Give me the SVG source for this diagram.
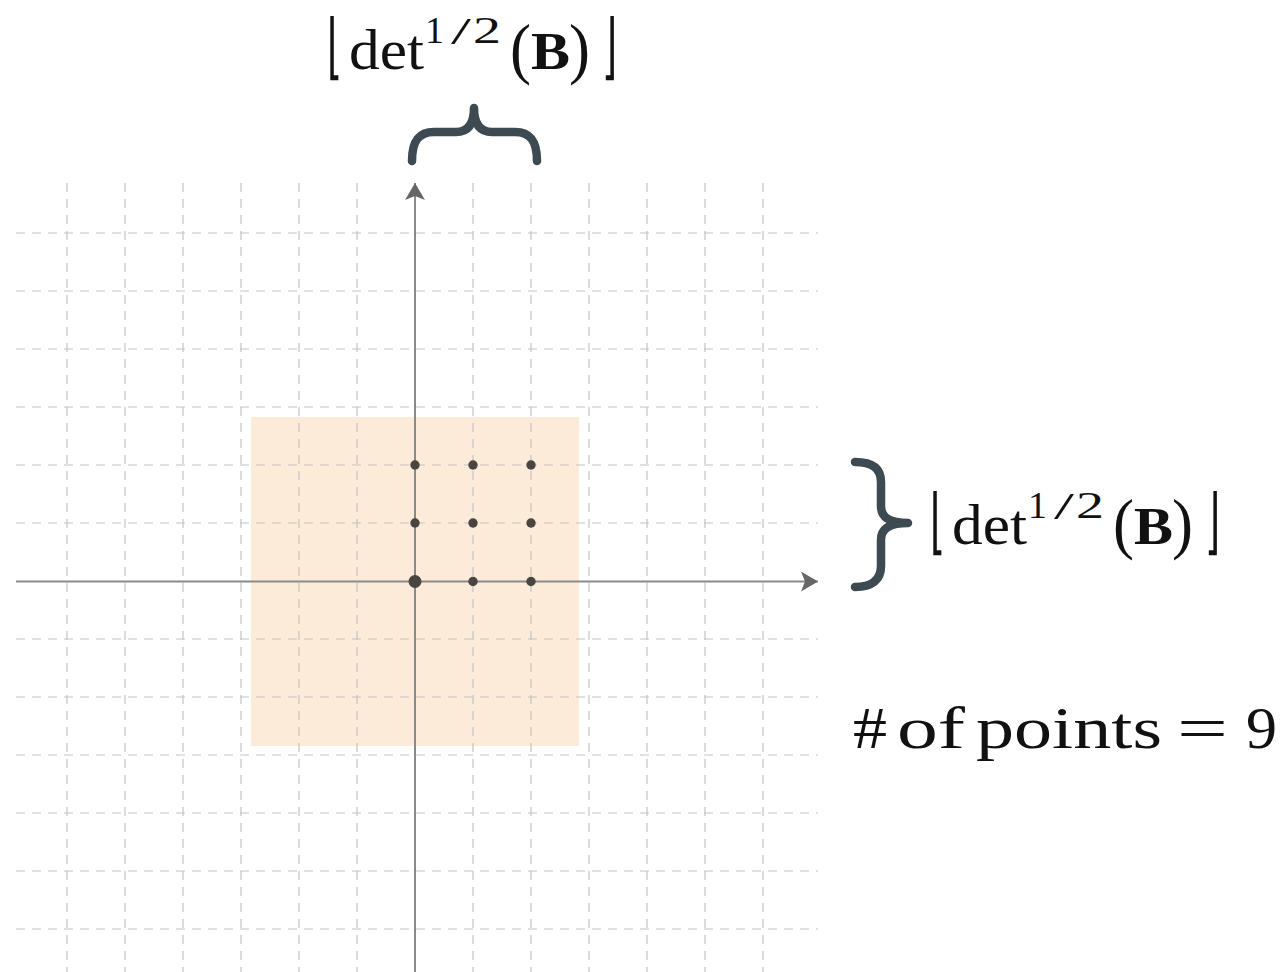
<svg xmlns="http://www.w3.org/2000/svg" width="1286" height="972" viewBox="0 0 1286 972">
<style>
.grid line{stroke:#c4c4c4;stroke-width:1.2;stroke-dasharray:9 7}
.axis{stroke:#8a8a8a;stroke-width:2;fill:none}
.dot{fill:#4a4541}
.brace{fill:none;stroke:#3e4a52;stroke-width:8.5;stroke-linecap:round;stroke-linejoin:round}
.m{font-family:"Liberation Serif","DejaVu Serif",serif;fill:#111}
.b{font-weight:bold}
.fl{font-family:"DejaVu Sans","DejaVu Serif",sans-serif;fill:#111}
</style>
<defs>
<marker id="arr" viewBox="0 0 20 20" refX="17" refY="10" markerWidth="20" markerHeight="20" markerUnits="userSpaceOnUse" orient="auto">
<path d="M0,0 L17,10 L0,20 L4,10 Z" fill="#666"/>
</marker>
</defs>
<rect id="region" x="251" y="417" width="328" height="329" fill="#fcebd9"/>
<g id="grid" class="grid">
<line x1="67" y1="183" x2="67" y2="972"/>
<line x1="125" y1="183" x2="125" y2="972"/>
<line x1="183" y1="183" x2="183" y2="972"/>
<line x1="241" y1="183" x2="241" y2="972"/>
<line x1="299" y1="183" x2="299" y2="972"/>
<line x1="357" y1="183" x2="357" y2="972"/>
<line x1="473" y1="183" x2="473" y2="972"/>
<line x1="531" y1="183" x2="531" y2="972"/>
<line x1="589" y1="183" x2="589" y2="972"/>
<line x1="647" y1="183" x2="647" y2="972"/>
<line x1="705" y1="183" x2="705" y2="972"/>
<line x1="763" y1="183" x2="763" y2="972"/>
<line x1="16" y1="233" x2="818" y2="233"/>
<line x1="16" y1="291" x2="818" y2="291"/>
<line x1="16" y1="349" x2="818" y2="349"/>
<line x1="16" y1="407" x2="818" y2="407"/>
<line x1="16" y1="465" x2="818" y2="465"/>
<line x1="16" y1="523" x2="818" y2="523"/>
<line x1="16" y1="639" x2="818" y2="639"/>
<line x1="16" y1="697" x2="818" y2="697"/>
<line x1="16" y1="755" x2="818" y2="755"/>
<line x1="16" y1="813" x2="818" y2="813"/>
<line x1="16" y1="871" x2="818" y2="871"/>
<line x1="16" y1="929" x2="818" y2="929"/>
</g>
<g id="connectors">
<line class="axis" x1="16" y1="581.5" x2="818" y2="581.5" marker-end="url(#arr)"/>
<line class="axis" x1="415" y1="972" x2="415" y2="183" marker-end="url(#arr)"/>
</g>
<g id="points">
<circle class="dot" cx="415" cy="581.5" r="6.5"/>
<circle class="dot" cx="473" cy="581.5" r="4.7"/>
<circle class="dot" cx="531" cy="581.5" r="4.7"/>
<circle class="dot" cx="415" cy="523" r="4.7"/>
<circle class="dot" cx="473" cy="523" r="4.7"/>
<circle class="dot" cx="531" cy="523" r="4.7"/>
<circle class="dot" cx="415" cy="465" r="4.7"/>
<circle class="dot" cx="473" cy="465" r="4.7"/>
<circle class="dot" cx="531" cy="465" r="4.7"/>
</g>
<g id="brace-top">
<path class="brace" d="M412,161 C412,142 418,132 434,132 L456,132 C468,132 474,124 474,108 C474,124 480,132 492,132 L515,132 C531,132 537,142 537,161"/>
</g>
<g id="brace-right">
<path class="brace" d="M855,462 C872,462 881,468 881,482 L881,506 C881,518 890,523 908,523 C890,523 881,528 881,540 L881,566 C881,580 872,587 855,587"/>
</g>
<g id="label-top">
<text class="fl" x="0" y="0" font-size="60" transform="translate(327,71) scale(0.65,1.2)">⌊</text>
<text class="m" x="349" y="69" font-size="56" textLength="75" lengthAdjust="spacingAndGlyphs">det</text>
<text class="m" x="425" y="43" font-size="38" textLength="19" lengthAdjust="spacingAndGlyphs">1</text>
<text class="m" x="451" y="44" font-size="38" textLength="20" lengthAdjust="spacingAndGlyphs">/</text>
<text class="m" x="473" y="43" font-size="38" textLength="28" lengthAdjust="spacingAndGlyphs">2</text>
<text class="m" x="510" y="71" font-size="68" textLength="21" lengthAdjust="spacingAndGlyphs">(</text>
<text class="m b" x="531" y="69" font-size="53" textLength="39" lengthAdjust="spacingAndGlyphs">B</text>
<text class="m" x="569" y="71" font-size="68" textLength="21" lengthAdjust="spacingAndGlyphs">)</text>
<text class="fl" x="0" y="0" font-size="60" transform="translate(602,71) scale(0.65,1.2)">⌋</text>
</g>
<g id="label-right" transform="translate(603,475)">
<text class="fl" x="0" y="0" font-size="60" transform="translate(327,71) scale(0.65,1.2)">⌊</text>
<text class="m" x="349" y="69" font-size="56" textLength="75" lengthAdjust="spacingAndGlyphs">det</text>
<text class="m" x="425" y="43" font-size="38" textLength="19" lengthAdjust="spacingAndGlyphs">1</text>
<text class="m" x="451" y="44" font-size="38" textLength="20" lengthAdjust="spacingAndGlyphs">/</text>
<text class="m" x="473" y="43" font-size="38" textLength="28" lengthAdjust="spacingAndGlyphs">2</text>
<text class="m" x="510" y="71" font-size="68" textLength="21" lengthAdjust="spacingAndGlyphs">(</text>
<text class="m b" x="531" y="69" font-size="53" textLength="39" lengthAdjust="spacingAndGlyphs">B</text>
<text class="m" x="569" y="71" font-size="68" textLength="21" lengthAdjust="spacingAndGlyphs">)</text>
<text class="fl" x="0" y="0" font-size="60" transform="translate(602,71) scale(0.65,1.2)">⌋</text>
</g>
<g id="label-count">
<text class="m" x="853" y="748" font-size="59" textLength="34" lengthAdjust="spacingAndGlyphs">#</text>
<text class="m" x="897" y="748" font-size="59" textLength="68" lengthAdjust="spacingAndGlyphs">of</text>
<text class="m" x="976" y="748" font-size="59" textLength="186" lengthAdjust="spacingAndGlyphs">points</text>
<text class="m" x="1177" y="748" font-size="59" textLength="51" lengthAdjust="spacingAndGlyphs">=</text>
<text class="m" x="1246" y="748" font-size="59" textLength="31" lengthAdjust="spacingAndGlyphs">9</text>
</g>
</svg>
